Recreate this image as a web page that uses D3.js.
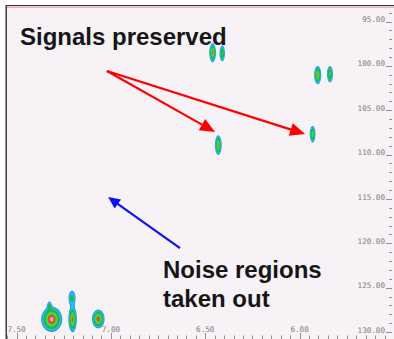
<!DOCTYPE html>
<html>
<head>
<meta charset="utf-8">
<script src="https://cdn.jsdelivr.net/npm/d3@7"></script>
<style>
  html, body { margin: 0; padding: 0; background: #ffffff; }
  svg { display: block; }
</style>
</head>
<body>
<svg id="chart" width="394" height="339"></svg>
<script>
// 1H chemical shift (ppm) of each cross-peak component
const peakShiftH = [6.461, 6.410, 5.904, 5.839, 6.431, 5.931, 7.314, 7.326, 7.203, 7.206, 7.067];
// 15N chemical shift (ppm) of each cross-peak component
const peakShiftN = [98.52, 98.59, 101.04, 100.93, 108.93, 107.69, 128.57, 127.10, 128.55, 126.20, 128.53];
// line widths (ppm, standard deviation) in each dimension
const peakWidthH = [0.0076, 0.0070, 0.0082, 0.0076, 0.0078, 0.0070, 0.0235, 0.0070, 0.0098, 0.0110, 0.0145];
const peakWidthN = [0.48, 0.46, 0.46, 0.46, 0.50, 0.45, 0.60, 0.30, 0.66, 0.52, 0.46];
// relative intensities
const peakHeight = [1.0, 0.55, 0.95, 0.6, 0.95, 0.7, 1.3, 0.35, 1.0, 0.32, 1.1];

// contour levels (relative intensity) and their colours
const contourLevels = [0.08, 0.13, 0.24, 0.5, 0.8, 0.93, 1.18];
const contourColors = ["#2a8cf5", "#1cc4ee", "#1cb848", "#46d83e", "#9c9a3a", "#d84a2e", "#f2b4b4"];

// axis ticks
const xTickValues = [7.50, 7.00, 6.50, 6.00];
const xTickLabels = ["7.50", "7.00", "6.50", "6.00"];
const yTickValues = [95, 100, 105, 110, 115, 120, 125, 130];
const yTickLabels = ["95.00", "100.00", "105.00", "110.00", "115.00", "120.00", "125.00", "130.00"];

// annotation arrows: start and end in (1H, 15N) ppm
const arrowFromH = [7.021, 7.021, 6.634];
const arrowFromN = [100.58, 100.58, 120.54];
const arrowToH = [6.448, 5.971, 7.015];
const arrowToN = [107.46, 107.69, 114.79];
const arrowColor = ["#ff0000", "#ff0000", "#1010f0"];

// annotation texts, anchored at (1H, 15N) ppm
const noteText = ["Signals preserved", "Noise regions", "taken out"];
const noteH = [7.482, 6.724, 6.724];
const noteN = [97.65, 123.92, 127.19];

const W = 394, H = 339;
const frameLeft = 6, frameTop = 6;
const svg = d3.select("#chart");

// 1H axis runs right-to-left, 15N axis runs top-to-bottom
const x = d3.scaleLinear().domain([7.556, 5.5156]).range([frameLeft, 391]);
const y = d3.scaleLinear().domain([93.365, 130.789]).range([7, 339]);

// plot frame
svg.append("rect").attr("x", frameLeft).attr("y", frameTop - 1).attr("width", W - frameLeft).attr("height", H - frameTop + 1)
  .attr("fill", "#f6f2f6");
svg.append("line").attr("x1", frameLeft).attr("x2", W).attr("y1", 5.5).attr("y2", 5.5)
  .attr("stroke", "#333").attr("stroke-width", 1.2);
svg.append("line").attr("x1", frameLeft).attr("x2", W).attr("y1", 7.2).attr("y2", 7.2)
  .attr("stroke", "#f08a8a").attr("stroke-width", 1);
svg.append("line").attr("x1", frameLeft + 0.2).attr("x2", frameLeft + 0.2).attr("y1", 5).attr("y2", H)
  .attr("stroke", "#333").attr("stroke-width", 1.4);

const defs = svg.append("defs");
defs.append("clipPath").attr("id", "plotClip")
  .append("rect").attr("x", frameLeft + 1).attr("y", 8).attr("width", W - frameLeft - 1).attr("height", H - 8);
defs.append("filter").attr("id", "soft")
  .attr("x", "-20%").attr("y", "-20%").attr("width", "140%").attr("height", "140%")
  .append("feGaussianBlur").attr("stdDeviation", 0.45);

// intensity grid sampled at pixel resolution from the peak list
const grid = new Float64Array(W * H);
peakShiftH.forEach((h, k) => {
  const cx = x(h), cy = y(peakShiftN[k]);
  const sx = Math.abs(x(h + peakWidthH[k]) - cx);
  const sy = Math.abs(y(peakShiftN[k] + peakWidthN[k]) - cy);
  const i0 = Math.max(0, Math.floor(cx - 5 * sx)), i1 = Math.min(W - 1, Math.ceil(cx + 5 * sx));
  const j0 = Math.max(0, Math.floor(cy - 5 * sy)), j1 = Math.min(H - 1, Math.ceil(cy + 5 * sy));
  for (let j = j0; j <= j1; j++) {
    for (let i = i0; i <= i1; i++) {
      const dx = (i + 0.5 - cx) / sx, dy = (j + 0.5 - cy) / sy;
      grid[j * W + i] += peakHeight[k] * Math.exp(-0.5 * (dx * dx + dy * dy));
    }
  }
});

const contours = d3.contours().size([W, H]).thresholds(contourLevels)(Array.from(grid));
const colorOf = d3.scaleOrdinal().domain(contourLevels).range(contourColors);

svg.append("g").attr("clip-path", "url(#plotClip)").attr("filter", "url(#soft)")
  .selectAll("path").data(contours).join("path")
  .attr("d", d3.geoPath())
  .attr("fill", d => colorOf(d.value))
  .attr("stroke", "none");

// right (15N) axis
const yAxis = svg.append("g").attr("class", "y-axis");
yAxis.selectAll("line").data(d3.range(94, 131, 1)).join("line")
  .attr("x1", d => (d % 5 === 0 ? 386 : 389)).attr("x2", 392)
  .attr("y1", d => Math.round(y(d)) + 0.5).attr("y2", d => Math.round(y(d)) + 0.5)
  .attr("stroke", "#777").attr("stroke-width", 0.8);
yAxis.selectAll("text").data(yTickValues).join("text")
  .attr("x", 385).attr("y", d => y(d) + 0.6)
  .attr("text-anchor", "end")
  .attr("font-family", "'DejaVu Sans Mono', monospace").attr("font-size", 7.6)
  .attr("fill", "#7c7c7c")
  .text((d, i) => yTickLabels[i]);

// bottom (1H) axis
const xAxis = svg.append("g").attr("class", "x-axis");
const xMinor = d3.range(0, 41).map(i => +(7.55 - i * 0.05).toFixed(2)).filter(v => v >= 5.52);
xAxis.selectAll("line").data(xMinor).join("line")
  .attr("x1", d => Math.round(x(d)) + 0.5).attr("x2", d => Math.round(x(d)) + 0.5)
  .attr("y1", d => (Math.abs(d * 2 - Math.round(d * 2)) < 1e-6 ? 333 : 335.5)).attr("y2", 339)
  .attr("stroke", "#777").attr("stroke-width", 0.8);
xAxis.selectAll("text").data(xTickValues).join("text")
  .attr("x", d => x(d)).attr("y", 332)
  .attr("text-anchor", "middle")
  .attr("font-family", "'DejaVu Sans Mono', monospace").attr("font-size", 7.6)
  .attr("fill", "#7c7c7c")
  .text((d, i) => xTickLabels[i]);

// annotation arrows
const arrows = svg.append("g").attr("class", "arrows");
arrowFromH.forEach((h, k) => {
  const x0 = x(h), y0 = y(arrowFromN[k]);
  const x1 = x(arrowToH[k]), y1 = y(arrowToN[k]);
  const len = Math.hypot(x1 - x0, y1 - y0);
  const ux = (x1 - x0) / len, uy = (y1 - y0) / len;
  const headLen = k < 2 ? 15 : 12, headHalf = k < 2 ? 6.5 : 5.5;
  const bx = x1 - ux * headLen, by = y1 - uy * headLen;
  arrows.append("line")
    .attr("x1", x0).attr("y1", y0).attr("x2", bx + ux * 2).attr("y2", by + uy * 2)
    .attr("stroke", arrowColor[k]).attr("stroke-width", 2.2);
  arrows.append("path")
    .attr("d", `M${x1},${y1}L${bx - uy * headHalf},${by + ux * headHalf}L${bx + uy * headHalf},${by - ux * headHalf}Z`)
    .attr("fill", arrowColor[k]);
});

// annotation texts
svg.append("g").selectAll("text").data(noteText).join("text")
  .attr("x", (d, i) => x(noteH[i])).attr("y", (d, i) => y(noteN[i]))
  .attr("font-family", "'Liberation Sans', Arial, sans-serif")
  .attr("font-weight", "bold").attr("font-size", 24)
  .attr("fill", "#161616")
  .text(d => d);
</script>
</body>
</html>
